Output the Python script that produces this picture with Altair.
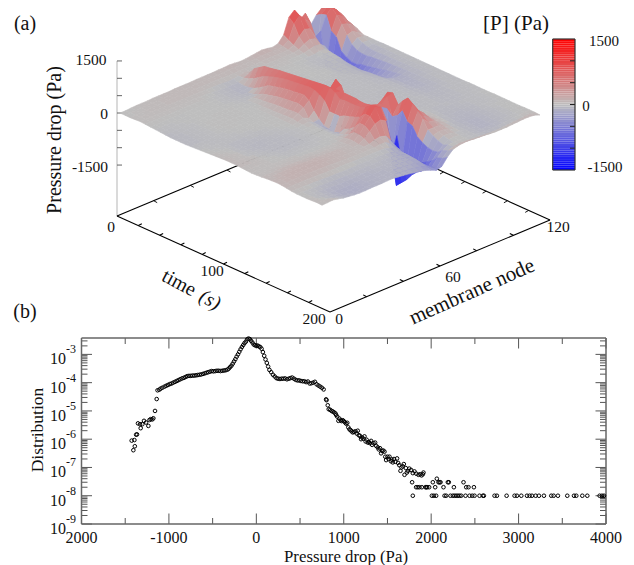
import altair as alt
import pandas as pd

W, H = 618, 557
FONT = "Liberation Serif"

# Pressure surface in units of 10 Pa: one row per time step (5 s), one column per node step (3 nodes)
P_ROWS = [
[0,0,1,2,2,2,3,3,3,3, 4,4,4,4,5,5,5,5,6,6, 7,6,4,5,7,9,11,9,6,10, 28,73,87,52,65,24,46,60,57,50,26],
[0,1,1,2,2,3,3,3,4,4, 4,4,4,5,5,5,5,5,5,6, 6,5,4,4,6,7,8,7,6,8, 20,60,78,60,45,-60,55,69,60,45,20],
[0,1,2,2,3,3,3,4,4,4, 4,4,4,4,4,4,4,3,3,3, 3,3,3,3,4,5,5,4,4,5, 12,30,45,40,10,20,60,75,60,40,15],
[1,2,2,3,3,3,3,3,3,3, 3,3,2,2,1,1,0,-1,0,2, 4,3,2,2,3,3,3,3,3,3, 6,15,22,18,-5,-75,20,60,50,30,10],
[2,2,2,2,2,2,2,2,2,2, 2,1,1,0,-2,-3,-4,-5,-3,3, 10,4,2,2,2,2,2,1,1,1, 2,6,10,8,-5,-75,10,40,35,25,5],
[1,1,1,1,1,1,1,1,1,1, 1,0,0,-2,-3,-4,-5,-7,-5,8, 30,5,2,1,1,1,1,0,0,0, -2,-1,2,2,-15,-72,-25,15,20,10,-3],
[0,0,0,0,0,0,0,0,0,0, 0,0,-1,-2,-3,-4,-6,-8,-4,15, 40,6,1,0,0,0,0,0,-1,-1, -3,-2,0,0,-20,-72,-35,-5,8,5,-3],
[-1,-1,-1,-1,-1,-1,0,0,0,0, 0,0,-1,-2,-3,-4,-5,-6,0,25, 50,7,0,0,0,0,0,0,-1,-2, -4,-3,-1,-2,-28,-68,-42,-15,0,0,-3],
[-2,-2,-2,-1,-1,-1,0,0,0,0, 0,0,-1,-1,-2,-3,-4,-4,8,35, 52,7,-1,-1,-1,0,0,0,-1,-2, -4,-3,-2,-4,-32,-62,-42,-18,-5,-3,-3],
[-3,-3,-2,-2,-1,-1,0,0,0,0, 0,0,0,-1,-1,-2,-1,2,18,40, 55,7,-2,-2,-1,-1,0,0,-1,-1, -3,-3,-3,-8,-36,-55,-36,-18,-8,-3,-2],
[-4,-3,-3,-2,-2,-1,0,0,0,1, 1,1,0,0,-1,-1,3,10,28,46, 58,7,-2,-2,-1,-1,0,0,-1,-1, -3,-3,-4,-10,-38,-48,-34,-15,-8,-3,-2],
[-4,-4,-3,-2,-2,-1,0,1,1,1, 1,1,0,0,0,0,4,14,32,50, 60,8,-3,-2,-2,-1,-1,-1,-1,-1, -3,-3,-5,-11,-35,-42,-30,-14,-7,-3,-2],
[-4,-4,-3,-3,-2,-1,0,1,1,1, 1,0,0,0,0,1,6,18,36,54, 62,8,-3,-3,-2,-2,-1,-1,-1,-2, -3,-3,-5,-12,-32,-38,-27,-12,-6,-3,-2],
[-4,-4,-3,-3,-2,-1,0,0,1,0, 0,0,0,0,0,2,8,22,40,56, 64,9,-3,-3,-2,-2,-2,-1,-2,-2, -3,-3,-4,-10,-28,-32,-24,-11,-6,-3,-2],
[-3,-3,-3,-3,-2,-1,-1,0,0,0, 0,0,0,0,1,2,10,24,42,58, 66,10,-3,-3,-2,-2,-2,-2,-2,-2, -3,-3,-4,-8,-24,-27,-20,-10,-5,-3,-2],
[-2,-2,-2,-2,-2,-2,-1,-1,0,0, 0,0,0,0,1,3,11,26,44,60, 68,12,-2,-3,-2,-2,-2,-2,-2,-2, -3,-3,-4,-7,-20,-24,-17,-9,-5,-3,-2],
[-1,-1,-2,-2,-2,-2,-2,-1,-1,0, 0,0,0,1,1,4,12,28,46,62, 70,15,-1,-2,-2,-2,-2,-2,-2,-2, -3,-3,-4,-6,-16,-20,-14,-8,-4,-3,-2],
[0,-1,-1,-2,-3,-3,-3,-2,-2,-1, -1,0,0,1,1,5,14,30,48,64, 72,30,20,-1,-2,-2,-2,-2,-2,-2, -3,-3,-4,-5,-10,-13,-11,-7,-4,-3,-2],
[1,0,0,-1,-3,-4,-4,-4,-3,-3, -2,-1,0,0,1,5,14,24,38,62, 74,50,50,10,-2,-2,-2,-2,-2,-2, -3,-3,-3,-5,-9,-12,-10,-7,-4,-3,-2],
[2,1,0,-1,-3,-4,-5,-5,-4,-3, -3,-2,-1,0,0,2,8,0,15,55, 76,60,80,20,0,-2,-2,-2,-2,-2, -3,-3,-3,-4,-8,-11,-9,-6,-4,-3,-2],
[3,2,1,0,-2,-4,-5,-6,-5,-4, -4,-3,-2,-1,0,1,3,-5,-2,45, 76,65,70,20,0,-2,-2,-2,-3,-3, -3,-3,-3,-4,-8,-10,-8,-5,-3,-3,-2],
[4,3,2,0,-2,-3,-4,-5,-5,-5, -4,-4,-3,-2,-1,0,1,-6,-15,20, 68,65,35,5,0,-2,-2,-2,-3,-3, -3,-3,-3,-4,-7,-9,-8,-5,-3,-2,-2],
[4,3,2,1,-1,-2,-3,-4,-5,-5, -4,-4,-3,-2,-1,0,0,-7,-18,20, 55,65,30,5,0,-2,-2,-2,-3,-3, -3,-3,-3,-4,-6,-8,-7,-5,-3,-2,-2],
[4,4,3,2,0,-1,-2,-3,-4,-4, -4,-3,-3,-2,-1,0,0,-7,-20,20, 58,65,35,10,0,-2,-2,-2,-3,-3, -3,-3,-3,-4,-6,-7,-6,-4,-3,-2,-2],
[3,3,3,2,1,0,-1,-2,-3,-3, -3,-3,-2,-2,-1,0,0,-6,-15,28, 58,65,40,15,5,-1,-2,-2,-3,-3, -3,-3,-3,-3,-5,-6,-5,-4,-3,-2,-2],
[2,2,2,2,1,1,0,-1,-2,-2, -2,-2,-2,-1,-1,0,0,-5,3,32, 58,62,45,25,20,20,10,0,-2,-3, -3,-3,-3,-3,-5,-6,-5,-3,-2,-2,-2],
[1,1,1,1,1,1,0,0,-1,-1, -1,-1,-1,-1,0,0,1,0,10,38, 60,62,52,45,55,70,30,10,2,-2, -3,-3,-3,-3,-4,-5,-4,-3,-2,-2,-1],
[2,2,2,2,2,2,2,2,1,1, 0,0,0,0,0,1,3,8,22,45, 65,65,60,55,70,75,35,15,5,0, -2,-3,-3,-3,-4,-5,-4,-3,-2,-2,-1],
[3,3,3,4,4,4,4,3,3,3, 2,2,2,2,2,3,8,20,40,60, 77,70,60,50,20,45,40,20,6,1, -2,-3,-3,-3,-3,-4,-3,-3,-2,-2,-1],
[5,5,6,6,7,7,7,6,6,6, 5,5,4,4,4,5,8,20,40,60, 80,70,30,-75,30,65,40,25,8,2, -1,-3,-4,-3,-3,-3,-3,-2,-2,-1,-1],
[6,6,8,9,10,10,10,10,10,9, 8,8,7,6,5,3,5,15,30,45, 50,40,-70,-15,50,80,50,30,10,3, -1,-3,-5,-5,-4,-3,-3,-2,-2,-1,-1],
[7,7,9,10,10,10,10,10,10,9, 8,7,6,5,4,4,5,6,12,15, 10,-10,-145,-85,25,70,45,30,10,3, -2,-4,-6,-6,-5,-4,-3,-2,-2,-1,0],
[6,7,8,9,9,8,8,7,7,6, 5,5,4,3,3,3,3,3,5,5, -5,-20,-130,-80,20,55,35,25,10,3, -3,-5,-6,-7,-6,-5,-3,-2,-2,-1,0],
[4,5,5,5,5,4,4,3,3,2, 2,2,1,1,1,1,1,1,0,-5, -10,-25,-115,-75,-5,40,25,20,8,2, -3,-6,-7,-8,-7,-5,-4,-2,-1,-1,0],
[2,2,2,1,1,0,0,-1,-1,-2, -2,-2,-2,-2,-2,-2,-2,-3,-5,-10, -15,-30,-95,-70,-15,15,15,15,5,1, -4,-6,-8,-8,-7,-6,-4,-2,-1,0,0],
[1,0,-1,-2,-3,-4,-5,-6,-6,-6, -6,-5,-5,-5,-4,-4,-5,-6,-8,-12, -15,-30,-80,-60,-22,5,10,10,3,0, -4,-6,-8,-9,-8,-6,-4,-3,-1,0,0],
[1,0,-2,-4,-6,-7,-8,-9,-9,-8, -8,-7,-7,-6,-6,-6,-7,-8,-10,-12, -16,-35,-70,-50,-25,-3,5,5,1,-1, -4,-6,-8,-9,-8,-6,-4,-3,-1,0,0],
[1,0,-3,-5,-8,-10,-11,-11,-11,-10, -9,-9,-8,-8,-7,-7,-8,-9,-10,-13, -17,-35,-55,-40,-22,-8,1,1,0,-2, -4,-6,-8,-8,-7,-6,-4,-2,-1,0,1],
[2,1,-2,-5,-8,-11,-12,-13,-12,-11, -10,-10,-9,-9,-8,-8,-9,-10,-12,-15, -20,-35,-45,-25,-10,-1,0,0,0,-2, -3,-5,-6,-6,-5,-4,-3,-2,0,1,1],
[3,2,0,-4,-7,-10,-12,-13,-12,-11, -10,-10,-9,-9,-8,-10,-11,-12,-14,-18, -24,-35,-40,-20,-5,0,2,1,0,-1, -2,-3,-4,-4,-3,-2,-1,0,1,2,1],
[2,3,4,1,-3,-5,-7,-8,-8,-7, -7,-7,-6,-6,-8,-10,-12,-15,-18,-22, -28,-35,-30,-10,5,10,12,12,10,9, 8,6,5,5,5,6,7,8,8,6,0],
]
for n, r in enumerate(P_ROWS):
    if len(r) != 41:
        raise SystemExit(f"row {n} has {len(r)}")

# distribution, panel (b): pressure drop and log10(distribution)
TAIL_L_X = [-1407,-1390,-1426,-1395,-1375,-1365,-1354,-1331,-1323,-1304,-1285,-1262,-1235,-1222,-1208,-1190,-1178,-1159,-1140]
TAIL_L_Y = [-6.39,-6.25,-6.05,-6.03,-5.84,-5.83,-5.44,-5.47,-5.61,-5.47,-5.35,-5.41,-5.53,-5.32,-5.29,-5.30,-5.26,-5.00,-4.58]
CORE_X = [-1130,-1110,-1095,-1075,-1050,-1030,-1010,-990,-970,-950,-930,-910,-890,-870,-850,-830,-810,-790,-770,-750,-730,-710,-690,-670,-650,-630,-610,-590,-570,-550,-530,-510,-490,-470,-450,-430,-410,-390,-370,-350,-330,-315,-300,-285,-270,-255,-240,-225,-210,-195,-180,-165,-150,-135,-120,-105,-90,-75,-60,-45,-30,-15,0,15,30,45,60,75,90,105,120,135,150,170,190,210,230,250,270,290,310,330,350,370,390,410,430,450,470,490,510,530,550,570,590,610,630,650,670,690,710,730,750,770]
CORE_Y = [-4.27,-4.25,-4.21,-4.18,-4.14,-4.11,-4.08,-4.05,-4.03,-4.00,-3.97,-3.94,-3.91,-3.88,-3.85,-3.83,-3.80,-3.77,-3.76,-3.76,-3.75,-3.75,-3.74,-3.73,-3.72,-3.71,-3.69,-3.67,-3.65,-3.63,-3.61,-3.59,-3.60,-3.59,-3.58,-3.58,-3.59,-3.58,-3.57,-3.56,-3.54,-3.50,-3.45,-3.40,-3.33,-3.25,-3.17,-3.08,-3.00,-2.91,-2.82,-2.74,-2.67,-2.60,-2.55,-2.47,-2.44,-2.46,-2.52,-2.58,-2.65,-2.68,-2.69,-2.69,-2.72,-2.74,-2.80,-2.92,-3.05,-3.18,-3.30,-3.43,-3.55,-3.63,-3.72,-3.78,-3.84,-3.86,-3.87,-3.86,-3.86,-3.85,-3.88,-3.86,-3.84,-3.82,-3.86,-3.90,-3.92,-3.92,-3.94,-3.95,-3.95,-3.98,-3.96,-4.03,-4.02,-4.00,-3.97,-4.06,-4.10,-4.14,-4.18,-4.24]
TAIL_R_X = [798,803,817,828,845,860,874,890,905,912,925,939,950,965,975,989,1000,1012,1027,1040,1052,1065,1078,1090,1103,1118,1135,1148,1160,1172,1185,1198,1210,1224,1237,1250,1262,1275,1288,1300,1313,1325,1340,1359,1372,1389,1400,1415,1427,1440,1452,1466,1475,1485,1500,1512,1523,1540,1550,1561,1575,1590,1610,1622,1635,1649,1660,1675,1687,1695,1710,1722,1733,1750,1771,1790,1809,1830,1855,1875,1890,1905,1912]
TAIL_R_Y = [-4.59,-4.62,-4.80,-4.94,-4.96,-5.00,-5.02,-5.05,-5.09,-5.14,-5.20,-5.35,-5.27,-5.33,-5.36,-5.33,-5.36,-5.40,-5.45,-5.42,-5.58,-5.65,-5.68,-5.72,-5.76,-5.74,-5.72,-5.80,-5.70,-5.86,-5.88,-6.00,-5.94,-5.98,-5.90,-6.08,-6.02,-6.12,-6.10,-6.14,-6.06,-6.20,-6.14,-6.12,-6.24,-6.29,-6.36,-6.32,-6.50,-6.42,-6.40,-6.44,-6.62,-6.74,-6.62,-6.70,-6.62,-6.78,-6.72,-6.82,-6.70,-6.80,-6.68,-6.84,-6.92,-7.12,-7.00,-6.96,-6.88,-7.26,-7.02,-7.18,-7.12,-7.04,-7.09,-7.20,-7.14,-7.22,-7.26,-7.24,-7.28,-7.24,-7.18]
LEVEL_4E8 = [2065]
LEVEL_3E8 = [1782,2019,2084,2096,2107,2191,2202,2370]
LEVEL_2E8 = [1828,1847,1866,1893,1935,1945,1954,1977,2046,2141,2260,2401,2427,2489]
LEVEL_1E8 = [1790,2008,2031,2057,2153,2172,2221,2248,2267,2286,2305,2324,2344,2393,2439,2470,2496,2553,2592,2603,2725,2752,2863,2954,2981,3031,3096,3126,3153,3195,3233,3290,3374,3401,3450,3557,3634,3660,3729,3786,3927,3954,3977]

X_MAJOR = [-2000,-1000,0,1000,2000,3000,4000]
X_MINOR = [-1500,-500,500,1500,2500,3500]
X_LABELS = ["2000","-1000","0","1000","2000","3000","4000"]
Y_EXPONENTS = [-3,-4,-5,-6,-7,-8,-9]
Z_TICKS = [-1500,-1000,-500,0,500,1000,1500]
T_TICKS = [0,20,40,60,80,100,120,140,160,180,200]
NODE_TICKS = [0,20,40,60,80,100,120]
CBAR_TICKS = [-1000,-500,0,500,1000]
CBAR_STEPS = list(range(-1500,1500,50))

# 3-D view
OX, OY = 120-8, 113-8
UX, UY = 202, 93
VX, VY = 218, -91
ZK = 0.0347
FX, FY = 117-8, 216-8
FTX, FTY = 213, 96
FNX, FNY = 220, -92

def surf(t, n, p):
    u, v = t/200, n/120
    return OX+UX*u+VX*v, OY+UY*u+VY*v-p*ZK

def floor(t, n):
    u, v = t/200, n/120
    return FX+FTX*u+FNX*v, FY+FTY*u+FNY*v

PX = alt.Scale(domain=[0,W], range=[0,W], nice=False, zero=False)
PY = alt.Scale(domain=[0,H], range=[0,H], nice=False, zero=False)
ex = alt.X("sx:Q", scale=PX, axis=None)
ey = alt.Y("sy:Q", scale=PY, axis=None)
ex2 = alt.X2("sx2:Q")
ey2 = alt.Y2("sy2:Q")
CMAP = alt.Scale(domain=[-1500,0,1500], range=["#0000ff","#bebebe","#ff0000"], clamp=True, interpolate="rgb")

rows = []
qid = 0
for i in range(40):
    for j in range(39,-1,-1):
        corners = [(i,j),(i+1,j),(i+1,j+1),(i,j+1)]
        vals = [P_ROWS[a][b]*10 for a,b in corners]
        extreme = max(vals, key=abs)
        pm = 0.5*sum(vals)/4 + 0.5*extreme
        for k,((a,b),p) in enumerate(zip(corners,vals)):
            sx, sy = surf(a*5, b*3, p)
            rows.append({"id":qid,"k":k,"sx":round(sx,2),"sy":round(sy,2),"p":pm})
        qid += 1
surface = alt.Chart(pd.DataFrame(rows)).mark_line(filled=True, strokeWidth=0.6, interpolate="linear-closed").encode(
    x=ex, y=ey,
    detail="id:N",
    order=alt.Order("k:Q"),
    fill=alt.Fill("p:Q", scale=CMAP, legend=None),
    stroke=alt.Stroke("p:Q", scale=CMAP, legend=None),
)

def seg_layer(segs, color="black", width=1.0):
    df = pd.DataFrame(segs, columns=["sx","sy","sx2","sy2"])
    return alt.Chart(df).mark_rule(color=color, strokeWidth=width).encode(x=ex, y=ey, x2=ex2, y2=ey2)

def text_layer(items, size, angle=0, style="normal", font=FONT):
    df = pd.DataFrame(items, columns=["sx","sy","txt"])
    return alt.Chart(df).mark_text(font=font, fontSize=size, angle=angle, fontStyle=style, color="#111111",
                                   align="center", baseline="middle").encode(x=ex, y=ey, text="txt:N")

# floor axes
fa = []
fa.append((*floor(0,0), *floor(0,120)))
fa.append((*floor(200,120), *floor(0,120)))
back_ticks = []
for n in NODE_TICKS[1:-1]:
    a = floor(0,n); back_ticks.append((a[0],a[1],a[0]+3.5,a[1]+2))
for t in T_TICKS[1:-1]:
    a = floor(t,120); back_ticks.append((a[0],a[1],a[0]-3.5,a[1]+2))
front = []
front.append((*floor(0,0), *floor(200,0)))
front.append((*floor(200,0), *floor(200,120)))
for t in T_TICKS[1:-1]:
    a = floor(t,0); front.append((a[0],a[1],a[0]+3.5,a[1]-1.8))
for n in NODE_TICKS[1:-1]:
    a = floor(200,n); front.append((a[0],a[1],a[0]-3.5,a[1]-1.8))

z_y = lambda p: 113-8-p*ZK
zaxis = [(FX,z_y(1500),FX,FY)]
zt = [(FX,z_y(p),FX+5,z_y(p)) for p in Z_TICKS]

layers = [
    seg_layer(zaxis, "#b5b5b5", 1.0),
    seg_layer(zt, "#555555", 0.9),
    seg_layer(fa, "black", 1.1),
    seg_layer(back_ticks, "black", 0.9),
    surface,
    seg_layer(front, "black", 1.1),
]

layers += [
    text_layer([(99-8-8,60-8,"1500"),(104-8,114-8,"0"),(90-8,167-8,"-1500")], 15.5),
    text_layer([(111-8,227-8,"0"),(212-8,271-8,"100"),(314-8,319-8,"200"),
                (339-8,319-8,"0"),(453-8,277-8,"60"),(558-8,227-8,"120")], 15.5),
    text_layer([(25-8,24-8,"(a)"),(25-8,312-8,"(b)")], 20),
    text_layer([(516-8,24-8,"[P] (Pa)")], 21),
    text_layer([(55-8,140-8,"Pressure drop (Pa)")], 20, angle=270),
    text_layer([(179-8,283-8,"time")], 20, angle=28),
    text_layer([(210-8,300-8,"(s)")], 20, angle=28, style="italic"),
    text_layer([(472-8,292-8,"membrane node")], 21, angle=336),
    text_layer([(604-8,41-8,"1500"),(586-8,106-8,"0"),(605-8,167-8,"-1500")], 15),
]

# colour bar
CB_Y = alt.Scale(domain=[-1500,1500], range=[162,31], nice=False, zero=False)
cb = pd.DataFrame({"p0":CBAR_STEPS,"p1":[p+50 for p in CBAR_STEPS],"pm":[p+25 for p in CBAR_STEPS]})
layers.append(alt.Chart(cb).mark_rect(stroke=None).encode(
    y=alt.Y("p0:Q", scale=CB_Y, axis=None), y2="p1:Q",
    x=alt.value(544.7), x2=alt.value(567),
    color=alt.Color("pm:Q", scale=CMAP, legend=None)))
cbt = pd.DataFrame({"p":CBAR_TICKS})
layers.append(alt.Chart(cbt).mark_rule(color="#222222", strokeWidth=1).encode(
    y=alt.Y("p:Q", scale=CB_Y, axis=None), x=alt.value(562), x2=alt.value(567)))
layers.append(seg_layer([(544.7,31,567,31),(544.7,162,567,162),(544.7,31,544.7,162),(567,31,567,162)], "#333333", 1.2))

# panel (b)
XS = alt.Scale(domain=[-2000,4000], range=[73.5,598], nice=False, zero=False)
YS = alt.Scale(type="log", domain=[1e-9,3.8e-3], range=[516,330], nice=False)
bx = alt.X("v:Q", scale=XS, axis=None)
by = alt.Y("v:Q", scale=YS, axis=None)

yt_major = [10.0**e for e in Y_EXPONENTS]
yt_minor = [k*10.0**e for e in Y_EXPONENTS for k in range(2,10) if k*10.0**e < 3.8e-3]
TOP, BOT, LEFT, RIGHT = 330, 516, 73.5, 598
def xticks(vals, ln, color="#555555"):
    d = pd.DataFrame({"v":vals})
    return [alt.Chart(d).mark_rule(color=color, strokeWidth=1).encode(x=bx, y=alt.value(BOT), y2=alt.value(BOT-ln)),
            alt.Chart(d).mark_rule(color=color, strokeWidth=1).encode(x=bx, y=alt.value(TOP), y2=alt.value(TOP+ln))]
def yticks(vals, ln, color="#555555"):
    d = pd.DataFrame({"v":vals})
    return [alt.Chart(d).mark_rule(color=color, strokeWidth=1).encode(y=by, x=alt.value(LEFT), x2=alt.value(LEFT+ln)),
            alt.Chart(d).mark_rule(color=color, strokeWidth=1).encode(y=by, x=alt.value(RIGHT), x2=alt.value(RIGHT-ln))]
layers += xticks(X_MAJOR,10.5) + xticks(X_MINOR,6) + yticks(yt_major,10.5) + yticks(yt_minor,6)
layers.append(seg_layer([(LEFT,TOP,RIGHT,TOP),(LEFT,BOT,RIGHT,BOT),(LEFT,TOP,LEFT,BOT),(RIGHT,TOP,RIGHT,BOT)], "#666666", 1.5))

pts_x = TAIL_L_X + CORE_X + TAIL_R_X + LEVEL_4E8 + LEVEL_3E8 + LEVEL_2E8 + LEVEL_1E8
pts_y = ([10.0**v for v in TAIL_L_Y+CORE_Y+TAIL_R_Y]
         + [4e-8]*len(LEVEL_4E8) + [3e-8]*len(LEVEL_3E8) + [2e-8]*len(LEVEL_2E8) + [1e-8]*len(LEVEL_1E8))
layers.append(alt.Chart(pd.DataFrame({"x":pts_x,"y":pts_y})).mark_point(
    shape="circle", filled=False, size=13, color="black", strokeWidth=1, opacity=1).encode(
    x=alt.X("x:Q", scale=XS, axis=None), y=alt.Y("y:Q", scale=YS, axis=None)))

# tick labels of (b)
xl = pd.DataFrame({"v":X_MAJOR,"t":X_LABELS})
layers.append(alt.Chart(xl).mark_text(font=FONT, fontSize=16, color="#111111", baseline="middle").encode(
    x=bx, y=alt.value(530), text="t:N"))
yl = pd.DataFrame({"v":yt_major,"t":["10"]*7,"e":[str(e) for e in Y_EXPONENTS]})
layers.append(alt.Chart(yl).mark_text(font=FONT, fontSize=16, color="#111111", baseline="middle", align="center", dy=5).encode(
    y=by, x=alt.value(50), text="t:N"))
layers.append(alt.Chart(yl).mark_text(font=FONT, fontSize=12, color="#111111", baseline="middle", align="center", dy=-5).encode(
    y=by, x=alt.value(63), text="e:N"))
layers.append(text_layer([(346-8,557-8,"Pressure drop (Pa)")], 16.8))
layers.append(text_layer([(38-8,430-8,"Distribution")], 17.5, angle=270))

chart = alt.layer(*layers).resolve_scale(x="independent", y="independent", fill="independent",
                                          stroke="independent", color="independent").properties(
    width=W, height=H, padding=0, autosize=alt.AutoSizeParams(type="none"), background="white"
).configure_view(stroke=None)

chart.save("out.html", embed_options={"renderer": "svg", "actions": False})
